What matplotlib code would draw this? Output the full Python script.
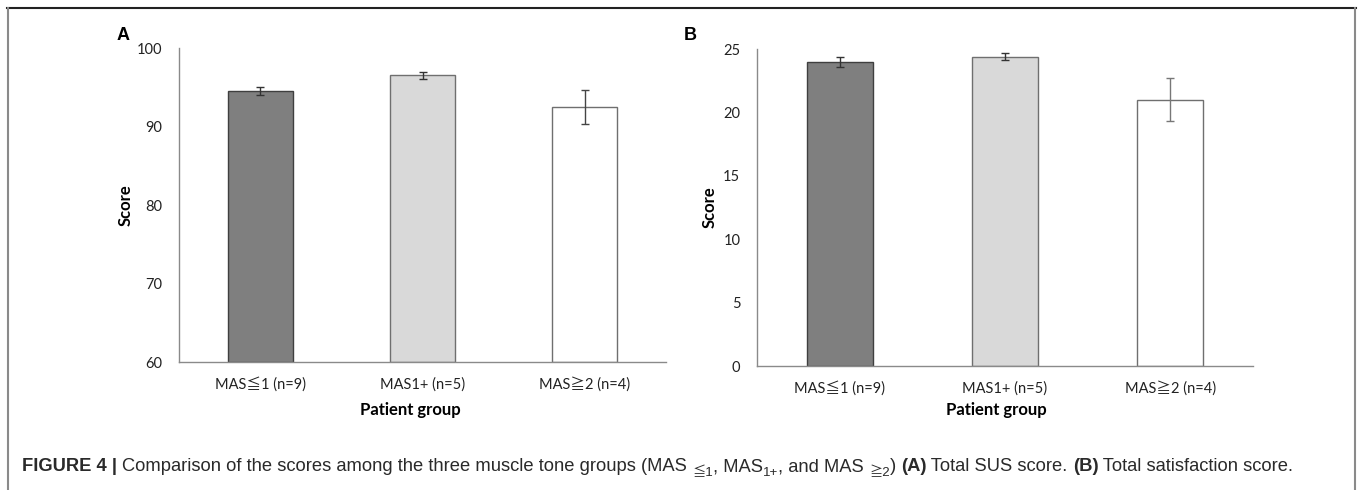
import matplotlib
matplotlib.use("Agg")
import matplotlib.pyplot as plt
from matplotlib.lines import Line2D

# dane
kategorie = ["MAS≦1 (n=9)", "MAS1+ (n=5)", "MAS≧2 (n=4)"]
wynikiA = [94.5, 96.5, 92.5]
bledyA = [0.5, 0.5, 2.2]
wynikiB = [24.0, 24.4, 21.0]
bledyB = [0.4, 0.25, 1.7]

kolory = ["#7f7f7f", "#d9d9d9", "#ffffff"]
krawedzie = ["#3f3f3f", "#6f6f6f", "#6f6f6f"]
czcionka = ["Lato", "Noto Sans CJK JP", "DejaVu Sans"]

plt.rcParams["font.family"] = czcionka

W, H = 1365, 490
fig = plt.figure(figsize=(W / 100, H / 100), dpi=100)


def panel(lewo, prawo, gora, dol, wyniki, bledy, ylim, yticks, litera, literaX,
          scoreX, grupaX, kolorBledu):
    ax = fig.add_axes([lewo / W, 1 - dol / H, (prawo - lewo) / W, (dol - gora) / H])
    x = list(range(len(kategorie)))
    ax.bar(x, [w - ylim[0] for w in wyniki], bottom=ylim[0], width=0.4,
           color=kolory, edgecolor=krawedzie, linewidth=1.0, zorder=2)
    for i in x:
        ax.errorbar(i, wyniki[i], yerr=bledy[i], fmt="none", ecolor=kolorBledu[i],
                    elinewidth=1.0, capsize=3, capthick=1.0, zorder=3)
    ax.set_xlim(-0.5, len(kategorie) - 0.5)
    ax.set_ylim(*ylim)
    ax.set_yticks(yticks)
    ax.set_xticks(x)
    ax.set_xticklabels(kategorie, fontsize=10.5, color="#222222")
    for s in ["top", "right"]:
        ax.spines[s].set_visible(False)
    for s in ["left", "bottom"]:
        ax.spines[s].set_color("#8a8a8a")
        ax.spines[s].set_linewidth(1.0)
    ax.tick_params(axis="y", length=0, pad=12, labelsize=10.5, labelcolor="#222222")
    ax.tick_params(axis="x", length=0, pad=11)
    ax.set_ylabel("Score", fontsize=12, fontweight="bold")
    ax.yaxis.set_label_coords((scoreX - lewo) / (prawo - lewo), 0.5)
    ax.set_xlabel("Patient group", fontsize=12, fontweight="bold")
    ax.xaxis.set_label_coords((grupaX - lewo) / (prawo - lewo), (dol - 402) / (dol - gora))
    fig.text(literaX / W, 1 - 40 / H, litera, fontsize=13, fontweight="bold",
             family="Liberation Sans", ha="left", va="baseline")
    return ax


panel(179, 666, 48, 362, wynikiA, bledyA, (60, 100), [60, 70, 80, 90, 100],
      "A", 117, 134, 410, ["#333333", "#333333", "#444444"])
panel(757, 1253, 49, 366, wynikiB, bledyB, (0, 25), [0, 5, 10, 15, 20, 25],
      "B", 684, 718, 996, ["#333333", "#333333", "#777777"])

# ramka wokół rysunku
fig.add_artist(Line2D([7 / W, 1356 / W], [1 - 8 / H, 1 - 8 / H],
                      transform=fig.transFigure, color="#222222", linewidth=1.5))
for xr in [8, 1355]:
    fig.add_artist(Line2D([xr / W, xr / W], [0, 1 - 8 / H],
                          transform=fig.transFigure, color="#8a8a8a", linewidth=1.5))

# podpis składany z kawałków
fragmenty = [
    ("FIGURE 4 | ", "bold", 0),
    ("Comparison of the scores among the three muscle tone groups (MAS ", "normal", 0),
    ("≦1", "normal", -1),
    (", MAS", "normal", 0),
    ("1+", "normal", -1),
    (", and MAS ", "normal", 0),
    ("≧2", "normal", -1),
    (") ", "normal", 0),
    ("(A)", "bold", 0),
    (" Total SUS score. ", "normal", 0),
    ("(B)", "bold", 0),
    (" Total satisfaction score.", "normal", 0),
]
renderer = fig.canvas.get_renderer()
xpos = 22
ybase = H - 471
for tekst, waga, sub in fragmenty:
    rozmiar = 13.2 if sub == 0 else 9.5
    dy = 0 if sub == 0 else -5
    t = fig.text(xpos / W, (ybase + dy) / H, tekst, fontsize=rozmiar,
                 fontweight=waga, color="#2a2a2a", ha="left", va="baseline",
                 family=["Liberation Sans", "Noto Sans CJK JP", "DejaVu Sans"])
    bb = t.get_window_extent(renderer)
    xpos += bb.width

fig.savefig("out.png", dpi=100)
